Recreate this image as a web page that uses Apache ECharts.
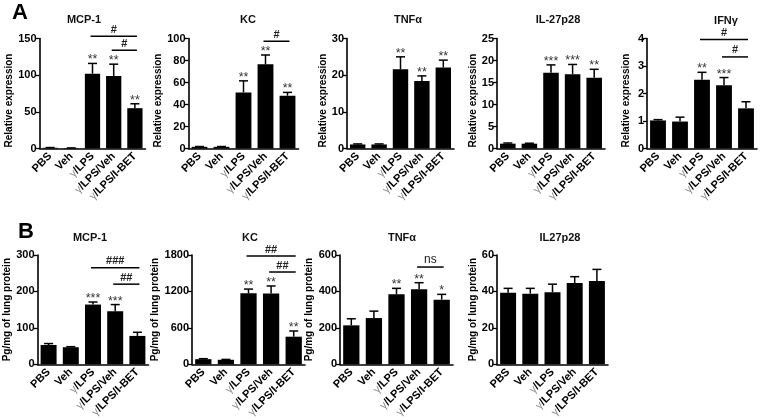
<!DOCTYPE html>
<html><head><meta charset="utf-8">
<script src="https://cdn.jsdelivr.net/npm/echarts@6/dist/echarts.min.js"></script>
<style>html,body{margin:0;padding:0;background:#fff}#c{width:760px;height:420px}</style>
</head><body><div id="c"></div>
<script>
// ---------- data ----------
const categories = ['PBS', 'Veh', 'γ/LPS', 'γ/LPS/Veh', 'γ/LPS/I-BET'];

// Panel A: relative expression
const mcp1RelMean = [1.0, 0.6, 102, 99, 55];
const mcp1RelErr = [0.3, 0.2, 14, 16, 6];
const mcp1RelStars = ['', '', '**', '**', '**'];
const mcp1RelBrackets = [[2, 4, 153, '#'], [3, 4, 134, '#']];
const mcp1RelTicks = [0, 150, 50];

const kcRelMean = [1.5, 1.5, 51, 76.5, 48];
const kcRelErr = [0.3, 0.3, 10.5, 8.5, 3];
const kcRelStars = ['', '', '**', '**', '**'];
const kcRelBrackets = [[3, 4, 97.5, '#']];
const kcRelTicks = [0, 100, 20];

const tnfRelMean = [1.1, 1.1, 21.6, 18.4, 22.1];
const tnfRelErr = [0.15, 0.15, 3.4, 1.4, 2.0];
const tnfRelStars = ['', '', '**', '**', '**'];
const tnfRelTicks = [0, 30, 10];

const il27RelMean = [1.1, 1.1, 17.2, 16.9, 16.1];
const il27RelErr = [0.15, 0.1, 1.8, 2.2, 1.9];
const il27RelStars = ['', '', '***', '***', '**'];
const il27RelTicks = [0, 25, 5];

const ifngRelMean = [1.02, 0.98, 2.5, 2.3, 1.46];
const ifngRelErr = [0.03, 0.16, 0.27, 0.28, 0.24];
const ifngRelStars = ['', '', '**', '***', ''];
const ifngRelBrackets = [[2, 4, 3.96, '#'], [3, 4, 3.33, '#']];
const ifngRelTicks = [0, 4, 1];

// Panel B: protein (pg/mg of lung protein)
const mcp1ProtMean = [53, 47, 164, 146, 78];
const mcp1ProtErr = [4, 1.5, 7, 18, 10];
const mcp1ProtStars = ['', '', '***', '***', ''];
const mcp1ProtBrackets = [[2, 4, 265, '###'], [3, 4, 220, '##']];
const mcp1ProtTicks = [0, 300, 100];

const kcProtMean = [85, 75, 1169, 1165, 455];
const kcProtErr = [8, 6, 70, 125, 94];
const kcProtStars = ['', '', '**', '**', '**'];
const kcProtBrackets = [[2, 4, 1783, '##'], [3, 4, 1520, '##']];
const kcProtTicks = [0, 1800, 600];

const tnfProtMean = [214, 254, 384, 412, 355];
const tnfProtErr = [36, 38, 33, 36, 29];
const tnfProtStars = ['', '', '**', '**', '*'];
const tnfProtBrackets = [[3, 4, 534, 'ns']];
const tnfProtTicks = [0, 600, 200];

const il27ProtMean = [39.3, 38.8, 39.5, 44.6, 45.7];
const il27ProtErr = [2.4, 2.9, 4.5, 3.5, 6.4];
const il27ProtStars = ['', '', '', '', ''];
const il27ProtTicks = [0, 60, 20];

const titlesA = ['MCP-1', 'KC', 'TNFα', 'IL-27p28', 'IFNγ'];
const titlesB = ['MCP-1', 'KC', 'TNFα', 'IL27p28'];
const yNameA = 'Relative expression';
const yNameB = 'Pg/mg of lung protein';
const panelLetters = ['A', 'B'];

// ---------- layout ----------
const FONT = '"Liberation Sans", Arial, Helvetica, sans-serif';
const panels = [
  {title: titlesA[0], tx: 84, ty: 20, yName: yNameA, mean: mcp1RelMean, err: mcp1RelErr, stars: mcp1RelStars, brackets: mcp1RelBrackets, ticks: mcp1RelTicks, g: [39.5, 38.5, 106, 110], gap: 23, shift: 14},
  {title: titlesA[1], tx: 248, ty: 20, yName: yNameA, mean: kcRelMean, err: kcRelErr, stars: kcRelStars, brackets: kcRelBrackets, ticks: kcRelTicks, g: [188.5, 38.5, 110, 110], gap: 16, shift: 14},
  {title: titlesA[2], tx: 408, ty: 20, yName: yNameA, mean: tnfRelMean, err: tnfRelErr, stars: tnfRelStars, brackets: [], ticks: tnfRelTicks, g: [347, 38.5, 107, 110], gap: 16, shift: 14},
  {title: titlesA[3], tx: 558, ty: 20, yName: yNameA, mean: il27RelMean, err: il27RelErr, stars: il27RelStars, brackets: [], ticks: il27RelTicks, g: [497, 38.5, 108, 110], gap: 16, shift: 14},
  {title: titlesA[4], tx: 726, ty: 21, yName: yNameA, mean: ifngRelMean, err: ifngRelErr, stars: ifngRelStars, brackets: ifngRelBrackets, ticks: ifngRelTicks, g: [647, 38.5, 110, 110], gap: 16, shift: 14},
  {title: titlesB[0], tx: 90, ty: 238, yName: yNameB, mean: mcp1ProtMean, err: mcp1ProtErr, stars: mcp1ProtStars, brackets: mcp1ProtBrackets, ticks: mcp1ProtTicks, g: [37.5, 255, 111, 109.5], gap: 24, shift: 0},
  {title: titlesB[1], tx: 250, ty: 238, yName: yNameB, mean: kcProtMean, err: kcProtErr, stars: kcProtStars, brackets: kcProtBrackets, ticks: kcProtTicks, g: [192, 255, 113, 109.5], gap: 24, shift: 0},
  {title: titlesB[2], tx: 402, ty: 238, yName: yNameB, mean: tnfProtMean, err: tnfProtErr, stars: tnfProtStars, brackets: tnfProtBrackets, ticks: tnfProtTicks, g: [340, 255, 113, 109.5], gap: 17, shift: 0},
  {title: titlesB[3], tx: 560, ty: 238, yName: yNameB, mean: il27ProtMean, err: il27ProtErr, stars: il27ProtStars, brackets: [], ticks: il27ProtTicks, g: [497, 255, 111, 109.5], gap: 19, shift: 0}
];

const option = {
  animation: false,
  backgroundColor: '#fff',
  grid: [], xAxis: [], yAxis: [], series: [], graphic: []
};

panels.forEach((p, i) => {
  option.grid.push({left: p.g[0], top: p.g[1], width: p.g[2], height: p.g[3]});
  option.xAxis.push({
    type: 'category', gridIndex: i, data: categories,
    axisLine: {lineStyle: {color: '#000', width: 1.6}},
    axisTick: {alignWithLabel: true, length: 3, lineStyle: {color: '#000', width: 1.3}},
    axisLabel: {
      rotate: 45, interval: 0, margin: 6, fontSize: 11, fontWeight: 'bold', color: '#000', fontFamily: FONT,
      formatter: v => v.replace('γ', '{g|γ}'),
      rich: {g: {color: '#8c8c8c', fontWeight: 'normal', fontSize: 11, fontFamily: FONT}}
    }
  });
  option.yAxis.push({
    type: 'value', gridIndex: i, min: p.ticks[0], max: p.ticks[1], interval: p.ticks[2],
    splitLine: {show: false},
    axisLine: {show: true, lineStyle: {color: '#000', width: 1.6}},
    axisTick: {show: true, length: 4, lineStyle: {color: '#000', width: 1.3}},
    axisLabel: {fontSize: 11, fontWeight: 'bold', color: '#000', margin: 3, fontFamily: FONT, formatter: v => String(v)},
    name: p.yName, nameLocation: 'middle', nameGap: p.gap,
    nameTextStyle: {fontSize: 10, fontWeight: 'bold', color: '#000', fontFamily: FONT, padding: [0, p.shift, 0, 0]}
  });
  option.series.push({
    type: 'bar', xAxisIndex: i, yAxisIndex: i, data: p.mean, barWidth: '72%', silent: true,
    itemStyle: {color: '#000'}
  });
  option.series.push({
    type: 'custom', xAxisIndex: i, yAxisIndex: i, clip: false, silent: true, z: 5,
    data: p.mean.map((m, j) => [j, m, p.err[j]]),
    renderItem: (params, api) => {
      const x = api.value(0), m = api.value(1), e = api.value(2);
      const a = api.coord([x, m]), b = api.coord([x, m + e]);
      const star = p.stars[params.dataIndex] || '';
      return {type: 'group', children: [
        {type: 'line', shape: {x1: a[0], y1: a[1], x2: b[0], y2: b[1]}, style: {stroke: '#000', lineWidth: 1.5}},
        {type: 'line', shape: {x1: b[0] - 4.5, y1: b[1], x2: b[0] + 4.5, y2: b[1]}, style: {stroke: '#000', lineWidth: 1.5}},
        {type: 'text', x: b[0], y: b[1] + 3, style: {text: star, align: 'center', verticalAlign: 'bottom', fontSize: 12.5, fontFamily: FONT, fill: '#333'}}
      ]};
    }
  });
  if (p.brackets.length) {
    option.series.push({
      type: 'custom', xAxisIndex: i, yAxisIndex: i, clip: false, silent: true, z: 5,
      data: p.brackets.map(b => [b[0], b[1], b[2]]),
      renderItem: (params, api) => {
        const s = api.coord([api.value(0), api.value(2)]);
        const t = api.coord([api.value(1), api.value(2)]);
        const lab = p.brackets[params.dataIndex][3];
        const isNs = lab === 'ns';
        return {type: 'group', children: [
          {type: 'line', shape: {x1: s[0] - 2, y1: s[1], x2: t[0] + 2, y2: t[1]}, style: {stroke: '#000', lineWidth: 1.5}},
          {type: 'text', x: (s[0] + t[0]) / 2, y: s[1] - 1, style: {text: lab, align: 'center', verticalAlign: 'bottom',
            fontSize: isNs ? 12 : 11, fontWeight: isNs ? 'normal' : 'bold', fontFamily: FONT, fill: '#222'}}
        ]};
      }
    });
  }
  option.graphic.push({type: 'text', x: p.tx, y: p.ty, style: {text: p.title, align: 'center', verticalAlign: 'middle', fontSize: 11, fontWeight: 'bold', fontFamily: FONT, fill: '#111'}});
});

option.graphic.push({type: 'text', x: 20, y: 13, style: {text: panelLetters[0], align: 'center', verticalAlign: 'middle', fontSize: 22, fontWeight: 'bold', fontFamily: FONT, fill: '#000'}});
option.graphic.push({type: 'text', x: 26, y: 232, style: {text: panelLetters[1], align: 'center', verticalAlign: 'middle', fontSize: 22, fontWeight: 'bold', fontFamily: FONT, fill: '#000'}});

const chart = echarts.init(document.getElementById('c'), null, {renderer: 'canvas'});
chart.setOption(option);
</script></body></html>
